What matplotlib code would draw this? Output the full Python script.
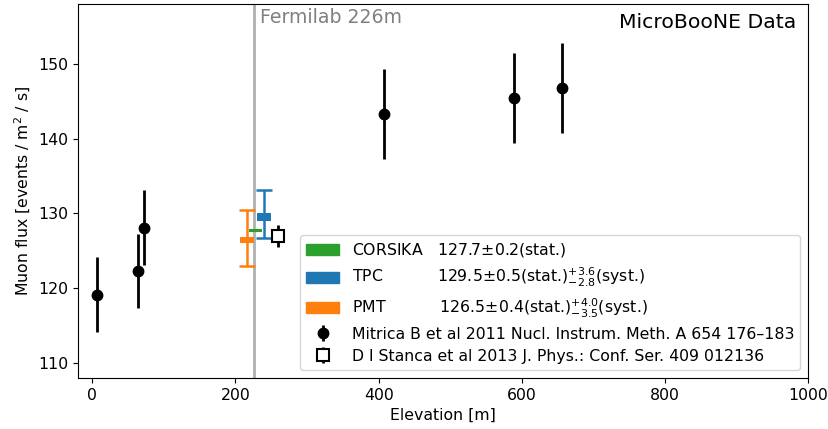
import matplotlib
matplotlib.use("Agg")
import matplotlib.pyplot as plt
from matplotlib.patches import Patch

# Mitrica et al. data
mit_elev = [7, 64, 72, 408, 589, 656]
mit_flux = [119.1, 122.3, 128.1, 143.3, 145.4, 146.8]
mit_err = [5.0, 5.0, 5.0, 6.0, 6.0, 6.0]

# Stanca et al. data
stan_elev = [260]
stan_flux = [127.0]
stan_err = [1.5]

# MicroBooNE results
mb_names = ["CORSIKA", "TPC", "PMT"]
mb_elev = [228, 240, 216]
mb_val = [127.7, 129.5, 126.5]
mb_stat = [0.2, 0.5, 0.4]
mb_syst_up = [None, 3.6, 4.0]
mb_syst_dn = [None, 2.8, 3.5]
mb_colors = ["#2ca02c", "#1f77b4", "#ff7f0e"]
mb_labels = [
    r"CORSIKA   127.7$\pm$0.2(stat.)",
    "TPC" + " " * 11 + r"129.5$\pm$0.5(stat.)$^{+3.6}_{-2.8}$(syst.)",
    "PMT" + " " * 11 + r"126.5$\pm$0.4(stat.)$^{+4.0}_{-3.5}$(syst.)",
]
mit_label = "Mitrica B et al 2011 Nucl. Instrum. Meth. A 654 176\u2013183"
stan_label = "D I Stanca et al 2013 J. Phys.: Conf. Ser. 409 012136"

fermilab_elev = 226

FS = 11.3

fig = plt.figure(figsize=(8.29, 4.29), dpi=100)
ax = fig.add_axes([0.094, 0.119, 0.881, 0.872])

ax.axvline(fermilab_elev, color="#b0b0b0", lw=2, zorder=1)
ax.text(fermilab_elev + 8, 157.4, "Fermilab 226m", color="grey", fontsize=13.6,
        va="top", ha="left")

handles = []
for name, x, v, s, su, sd, c, lab in zip(mb_names, mb_elev, mb_val, mb_stat,
                                         mb_syst_up, mb_syst_dn, mb_colors, mb_labels):
    if su is not None:
        ax.errorbar([x], [v], yerr=[[sd], [su]], fmt="none", ecolor=c,
                    elinewidth=1.8, capsize=6, capthick=1.8, zorder=2)
    ax.bar([x], [2 * s], bottom=[v - s], width=19, color=c, zorder=3)
    handles.append(Patch(color=c))

h_mit = ax.errorbar(mit_elev, mit_flux, yerr=mit_err, fmt="o", color="black",
                    ms=7.5, elinewidth=2, zorder=4)
h_stan = ax.errorbar(stan_elev, stan_flux, yerr=stan_err, fmt="s", color="black",
                     mfc="white", mec="black", mew=1.5, ms=8, elinewidth=2, zorder=4)

ax.legend(handles + [h_mit, h_stan], mb_labels + [mit_label, stan_label],
          loc="lower right", fontsize=FS, handlelength=2.1, borderpad=0.4,
          labelspacing=0.45)

ax.text(0.983, 0.975, "MicroBooNE Data", transform=ax.transAxes, fontsize=14.7,
        ha="right", va="top")

ax.set_xlim(-20, 1000)
ax.set_ylim(108, 158)
ax.set_yticks([110, 120, 130, 140, 150])
ax.set_xlabel("Elevation [m]", fontsize=FS)
ax.set_ylabel(r"Muon flux [events / m$^2$ / s]", fontsize=FS)
ax.tick_params(labelsize=FS)

fig.savefig("out.png", dpi=100)
